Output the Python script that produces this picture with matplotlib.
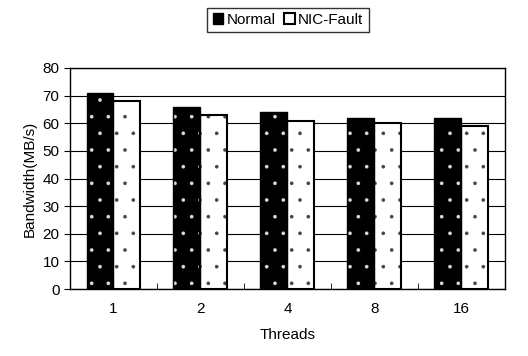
import numpy as np
import matplotlib
matplotlib.use("Agg")
import matplotlib.pyplot as plt
from matplotlib.patches import Patch

threads = ["1", "2", "4", "8", "16"]
normal = [71, 66, 64, 62, 62]
nic_fault = [68, 63, 61, 60, 59]

plt.rcParams['font.family'] = ['Liberation Sans', 'DejaVu Sans']
plt.rcParams['font.size'] = 11
plt.rcParams['hatch.linewidth'] = 0.2

fig = plt.figure(figsize=(5.28, 3.56), dpi=100)
ax = fig.add_axes([0.1326, 0.188, 0.8234, 0.621])

x = np.arange(len(threads))
w = 0.31
# filled faces with dotted hatch, then outlines on top
ax.bar(x - w / 2, normal, w, color="black", edgecolor="#dddddd", hatch=".", linewidth=0, zorder=3)
ax.bar(x + w / 2, nic_fault, w, color="white", edgecolor="#444444", hatch=".", linewidth=0, zorder=3)
ax.bar(x - w / 2, normal, w, fill=False, edgecolor="black", linewidth=1, zorder=4)
ax.bar(x + w / 2, nic_fault, w, fill=False, edgecolor="black", linewidth=1.5, zorder=4)

ax.set_xlim(-0.5, len(threads) - 0.5)
ax.set_ylim(0, 80)
ax.set_yticks(range(0, 81, 10))
ax.set_xticks(x)
ax.set_xticklabels(threads)
ax.set_xticks(np.arange(0.5, len(threads) - 1, 1), minor=True)
ax.yaxis.grid(True, color="black", linewidth=0.8, zorder=0)
ax.set_axisbelow(True)
for s in ax.spines.values():
    s.set_linewidth(1)
ax.tick_params(axis="x", which="major", length=0, pad=9)
ax.tick_params(axis="x", which="minor", length=4, direction="in")
ax.tick_params(axis="y", length=4, direction="out")
ax.set_xlabel("Threads", labelpad=9)
ax.set_ylabel("Bandwidth(MB/s)")

handles = [Patch(facecolor="black", edgecolor="black", label="Normal"),
           Patch(facecolor="white", edgecolor="black", linewidth=1.5, label="NIC-Fault")]
leg = fig.legend(handles=handles, loc="center", bbox_to_anchor=(288 / 528, 1 - 20 / 356),
                 ncol=2, frameon=True, fancybox=False, edgecolor="black",
                 handlelength=0.7, handleheight=0.7, handletextpad=0.2, columnspacing=0.6,
                 borderpad=0.35)
leg.get_frame().set_linewidth(1)

fig.savefig("out.png", dpi=100)
